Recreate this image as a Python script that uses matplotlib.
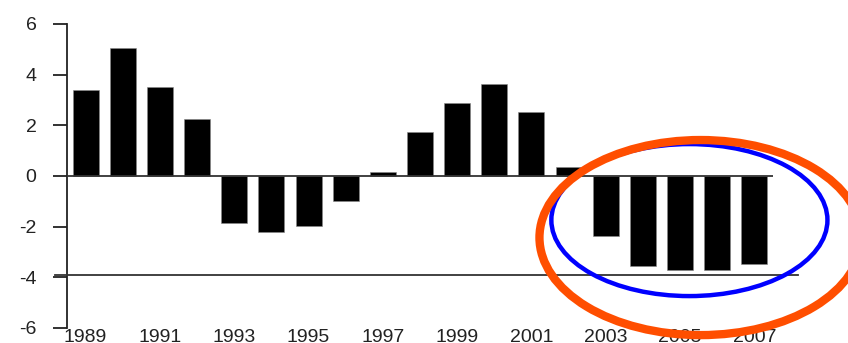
import matplotlib.pyplot as plt
from matplotlib.patches import Ellipse

plt.rcParams['font.family'] = ['Liberation Sans', 'DejaVu Sans']

years = list(range(1989, 2008))
values = [3.4, 5.05, 3.53, 2.24, -1.85, -2.2, -1.98, -0.98, 0.17, 1.75,
          2.87, 3.64, 2.52, 0.37, -2.37, -3.54, -3.72, -3.72, -3.48]
tick_years = years[::2]
ref_level = -3.92

fig = plt.figure(figsize=(8.48, 3.43), dpi=100)
ax = fig.add_axes([67 / 848, 1 - 328 / 343, (773 - 67) / 848, (328 - 24) / 343])

ax.bar(years, values, width=0.7, color='black', edgecolor='#888888', linewidth=0.4, zorder=2)
ax.axhline(0, color='#333333', linewidth=1.3, zorder=3)

# reference line, runs past the axes on both sides
ax.plot([1988.18, 2008.16], [ref_level, ref_level], color='#333333',
        linewidth=1.3, clip_on=False, zorder=3)

ax.set_xlim(1988.5, 2007.5)
ax.set_ylim(-6, 6)
ax.set_yticks([6, 4, 2, 0, -2, -4, -6])
ax.set_yticklabels(['6', '4', '2', '0', '-2', '-4', '-6'])
ax.set_xticks(tick_years)
ax.set_xticklabels([str(y) for y in tick_years])

for s in ['top', 'right', 'bottom']:
    ax.spines[s].set_visible(False)
ax.spines['left'].set_linewidth(1.3)
ax.spines['left'].set_color('#222222')
ax.tick_params(axis='y', direction='out', length=10, width=1.3, pad=12,
               labelsize=14, colors='#222222')
ax.tick_params(axis='x', length=0, pad=0.5, labelsize=14, colors='#222222')

# highlight circles
ax.add_patch(Ellipse((2005.25, -1.74), 7.43, 6.0, fill=False,
                     edgecolor='#0000FF', linewidth=3.2, clip_on=False, zorder=5))
ax.add_patch(Ellipse((2005.55, -2.43), 8.67, 7.7, fill=False,
                     edgecolor='#FF4E00', linewidth=6, clip_on=False, zorder=6))

fig.savefig('out.png', dpi=100)
